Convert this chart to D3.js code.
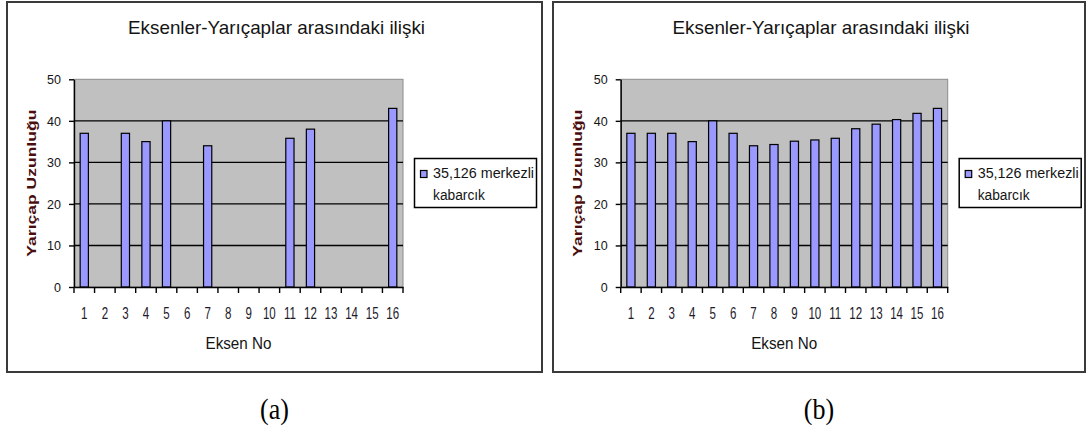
<!DOCTYPE html>
<html>
<head>
<meta charset="utf-8">
<script src="https://cdn.jsdelivr.net/npm/d3@7"></script>
<style>
  body { margin: 0; background: #fff; }
  svg { display: block; }
</style>
</head>
<body>
<svg id="chart" width="1088" height="442"></svg>
<script>
// Axis categories (shaft numbers)
const categories = ["1", "2", "3", "4", "5", "6", "7", "8", "9", "10", "11", "12", "13", "14", "15", "16"];
// Radius lengths, panel (a): only some shafts measured
const radiusA = [37, null, 37, 35, 40, null, 34, null, null, null, 35.8, 38, null, null, null, 43];
// Radius lengths, panel (b): all shafts
const radiusB = [37, 37, 37, 35, 40, 37, 34, 34.3, 35.1, 35.4, 35.8, 38.1, 39.2, 40.3, 41.8, 43];
const yTicks = [0, 10, 20, 30, 40, 50];
const chartTitle = "Eksenler-Yarıçaplar arasındaki ilişki";
const yTitle = "Yarıçap Uzunluğu";
const xTitle = "Eksen No";
const legendLines = ["35,126 merkezli", "kabarcık"];
const panelLabels = ["(a)", "(b)"];

const svg = d3.select("#chart");
const SANS = "'Liberation Sans', Arial, sans-serif";
const SERIF = "'Liberation Serif', 'Times New Roman', serif";
const INK = "#141414";

const panels = [
  { x0: 7,   w: 535, plotL: 74,    plotW: 329, values: radiusA, label: panelLabels[0] },
  { x0: 553, w: 532, plotL: 620.7, plotW: 327, values: radiusB, label: panelLabels[1] }
];
const plotTop = 79.3, plotBottom = 287;

panels.forEach(p => {
  const g = svg.append("g");

  // chart frame
  g.append("rect")
    .attr("x", p.x0).attr("y", 2)
    .attr("width", p.w).attr("height", 370)
    .attr("fill", "#fff").attr("stroke", "#3a3a3a").attr("stroke-width", 2);

  const x = d3.scaleBand().domain(categories).range([p.plotL, p.plotL + p.plotW]);
  const y = d3.scaleLinear().domain([0, 50]).range([plotBottom, plotTop]);

  // plot area
  g.append("rect")
    .attr("x", p.plotL).attr("y", y(50))
    .attr("width", p.plotW).attr("height", y(0) - y(50))
    .attr("fill", "#c0c0c0").attr("stroke", "#8c8c8c").attr("stroke-width", 1);

  // horizontal gridlines
  g.selectAll("line.grid")
    .data(yTicks.filter(t => t > 0 && t < 50))
    .join("line").attr("class", "grid")
    .attr("x1", p.plotL).attr("x2", p.plotL + p.plotW)
    .attr("y1", d => y(d)).attr("y2", d => y(d))
    .attr("stroke", "#000").attr("stroke-width", 1.4);

  // bars
  const bw = x.bandwidth() / 2.5;
  const rows = categories.map((c, i) => ({ c, v: p.values[i] })).filter(d => d.v != null);
  g.selectAll("rect.bar")
    .data(rows)
    .join("rect").attr("class", "bar")
    .attr("x", d => x(d.c) + (x.bandwidth() - bw) / 2)
    .attr("y", d => y(d.v))
    .attr("width", bw)
    .attr("height", d => y(0) - y(d.v))
    .attr("fill", "#9999ff").attr("stroke", "#000").attr("stroke-width", 1.2);

  // value axis
  const ya = g.append("g")
    .attr("transform", `translate(${p.plotL},0)`)
    .call(d3.axisLeft(y).tickValues(yTicks).tickSize(5).tickSizeOuter(0).tickPadding(8).tickFormat(d3.format("d")));
  ya.select(".domain").attr("stroke", "#000").attr("stroke-width", 1.4);
  ya.selectAll(".tick line").attr("stroke", "#000").attr("stroke-width", 1.4);
  ya.selectAll(".tick text")
    .attr("font-family", SANS).attr("font-size", 12.5).attr("fill", INK)
    .attr("dy", "0.36em");

  // category axis
  const xa = g.append("g")
    .attr("transform", `translate(0,${plotBottom})`)
    .call(d3.axisBottom(x).tickSize(0).tickSizeOuter(0));
  xa.select(".domain").attr("stroke", "#000").attr("stroke-width", 1.4);
  xa.selectAll(".tick text")
    .attr("font-family", SANS).attr("font-size", 16.5).attr("fill", "#1e1a2a")
    .attr("y", 32).attr("dy", 0)
    .attr("transform", "scale(0.7,1)");

  // tick marks between categories
  const bounds = categories.map(c => x(c)).concat([x.range()[1]]);
  g.selectAll("line.xtick")
    .data(bounds)
    .join("line").attr("class", "xtick")
    .attr("x1", d => d).attr("x2", d => d)
    .attr("y1", plotBottom).attr("y2", plotBottom + 6)
    .attr("stroke", "#000").attr("stroke-width", 1.4);

  // chart title
  g.append("text")
    .attr("x", p.x0 + p.w / 2 + 2).attr("y", 34)
    .attr("text-anchor", "middle")
    .attr("font-family", SANS).attr("font-size", 19).attr("fill", INK)
    .attr("textLength", 297).attr("lengthAdjust", "spacingAndGlyphs")
    .text(chartTitle);

  // value axis title
  g.append("text")
    .attr("transform", `translate(${p.plotL - 38.5},${(plotTop + plotBottom) / 2}) rotate(-90)`)
    .attr("text-anchor", "middle")
    .attr("font-family", SANS).attr("font-size", 12.5).attr("font-weight", "bold")
    .attr("fill", "#4a0e0e")
    .attr("textLength", 147).attr("lengthAdjust", "spacingAndGlyphs")
    .text(yTitle);

  // category axis title
  g.append("text")
    .attr("x", p.plotL + p.plotW / 2).attr("y", 348.5)
    .attr("text-anchor", "middle")
    .attr("font-family", SANS).attr("font-size", 16).attr("fill", INK)
    .attr("textLength", 66).attr("lengthAdjust", "spacingAndGlyphs")
    .text(xTitle);

  // legend
  const lx = p.plotL + p.plotW + 11.5;
  const lg = g.append("g");
  lg.append("rect")
    .attr("x", lx).attr("y", 158.5).attr("width", 122).attr("height", 49)
    .attr("fill", "#fff").attr("stroke", "#000").attr("stroke-width", 1.5);
  lg.append("rect")
    .attr("x", lx + 6).attr("y", 170.5).attr("width", 6.5).attr("height", 7)
    .attr("fill", "#9999ff").attr("stroke", "#000").attr("stroke-width", 1.2);
  lg.append("text")
    .attr("x", lx + 18.5).attr("y", 178)
    .attr("font-family", SANS).attr("font-size", 14).attr("fill", INK)
    .attr("textLength", 101).attr("lengthAdjust", "spacingAndGlyphs")
    .text(legendLines[0]);
  lg.append("text")
    .attr("x", lx + 18.5).attr("y", 200)
    .attr("font-family", SANS).attr("font-size", 14).attr("fill", INK)
    .attr("textLength", 52).attr("lengthAdjust", "spacingAndGlyphs")
    .text(legendLines[1]);

  // panel caption
  g.append("text")
    .attr("transform", `translate(${p.x0 + p.w / 2},419) scale(1,1.15)`)
    .attr("text-anchor", "middle")
    .attr("font-family", SERIF).attr("font-size", 26).attr("fill", "#000")
    .text(p.label);
});
</script>
</body>
</html>
